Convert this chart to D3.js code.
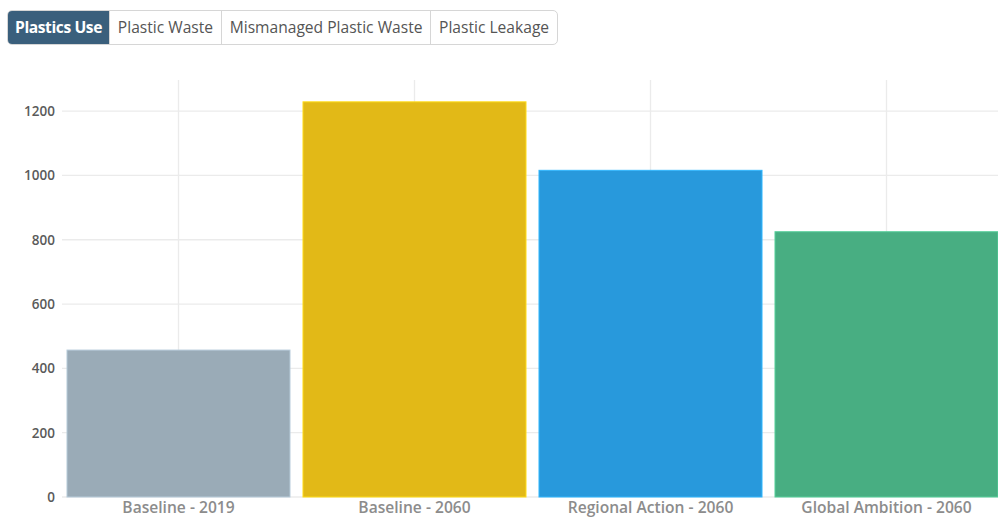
<!DOCTYPE html>
<html><head><meta charset="utf-8">
<script src="https://cdn.jsdelivr.net/npm/d3@7"></script>
<style>
body{margin:0;background:#fff;font-family:"Open Sans","Noto Sans",sans-serif;}
#tabs{position:absolute;left:7px;top:10px;display:flex;border:1px solid #d6d6d6;border-radius:5px;overflow:hidden;height:33px;z-index:2;}
#tabs div{font-size:15.6px;line-height:33px;padding:0 7.8px;color:#555;border-left:1px solid #d6d6d6;white-space:nowrap;}
#tabs div:first-child{border-left:none;}
#tabs div.active{background:#3a5f7c;color:#fff;font-weight:700;letter-spacing:-0.4px;padding:0 7px;}
svg{position:absolute;left:0;top:0;}
</style></head>
<body>
<div id="tabs"></div>
<svg id="chart" width="998" height="518"></svg>
<script>
const tabs = ["Plastics Use","Plastic Waste","Mismanaged Plastic Waste","Plastic Leakage"];
const categories = ["Baseline - 2019","Baseline - 2060","Regional Action - 2060","Global Ambition - 2060"];
const values = [457, 1229, 1016, 825];
const colors = ["#9aabb7","#e2b917","#2899dc","#48ae82"];
const yTicks = [0,200,400,600,800,1000,1200];

d3.select("#tabs").selectAll("div").data(tabs).enter().append("div")
  .attr("class",(d,i)=>i===0?"active":null).text(d=>d);

const svg = d3.select("#chart");
const mLeft = 60.5, mRight = 1004.5, mTop = 79, mBottom = 497;
const x = d3.scaleBand().domain(categories).range([mLeft,mRight]).paddingInner(0.055).paddingOuter(0.0275);
const y = d3.scaleLinear().domain([0,1300]).range([mBottom,mTop]);

const g = svg.append("g");
g.selectAll("line.h").data(yTicks).enter().append("line").attr("class","h")
  .attr("x1",62).attr("x2",998).attr("y1",d=>y(d)).attr("y2",d=>y(d))
  .attr("stroke","#ebebeb").attr("stroke-width",1.3);
g.selectAll("line.v").data(categories).enter().append("line").attr("class","v")
  .attr("x1",d=>x(d)+x.bandwidth()/2).attr("x2",d=>x(d)+x.bandwidth()/2)
  .attr("y1",mTop+1).attr("y2",mBottom)
  .attr("stroke","#ebebeb").attr("stroke-width",1.3);

g.selectAll("rect").data(values).enter().append("rect")
  .attr("x",(d,i)=>x(categories[i])).attr("width",x.bandwidth())
  .attr("y",d=>y(d)).attr("height",d=>mBottom-y(d))
  .attr("fill",(d,i)=>colors[i])
  .attr("stroke",(d,i)=>d3.color(colors[i]).brighter(0.5)).attr("stroke-width",1);

const yAxis = d3.axisLeft(y).tickValues(yTicks).tickFormat(d3.format("d")).tickSize(0).tickPadding(0);
const ya = svg.append("g").attr("transform","translate(55,0)").call(yAxis);
ya.select(".domain").remove();
ya.selectAll("text").attr("font-family","'Open Sans','Noto Sans',sans-serif").attr("font-size",13.5).attr("font-weight",600).attr("fill","#5a5a5a");

const xAxis = d3.axisBottom(x).tickSize(0).tickPadding(0);
const xa = svg.append("g").attr("transform","translate(0,501.5)").call(xAxis);
xa.select(".domain").remove();
xa.selectAll("text").attr("font-family","'Open Sans','Noto Sans',sans-serif").attr("font-size",15.6).attr("fill","#8c8c8c").attr("font-weight",600);
</script>
</body></html>
